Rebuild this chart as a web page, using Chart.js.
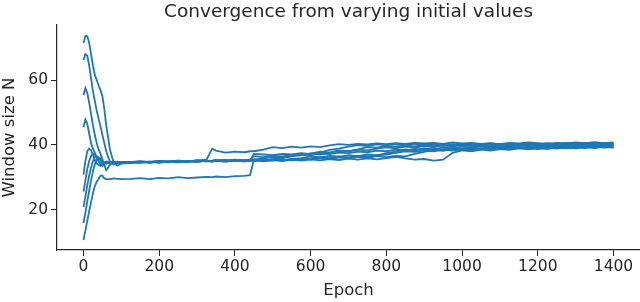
<!DOCTYPE html>
<html>
<head>
<meta charset="utf-8">
<script src="https://cdn.jsdelivr.net/npm/chart.js@4"></script>
<style>
  body { margin: 0; background: #fff; }
  canvas { display: block; }
</style>
</head>
<body>
<canvas id="conv_chart" width="640" height="302"></canvas>
<script>
const ctx = document.getElementById("conv_chart").getContext("2d");

const epochs = [0, 5, 10, 15, 20, 25, 30, 35, 40, 45, 50, 55, 60, 70, 80, 90, 100,
    125, 150, 175, 200, 225, 250, 275, 300, 325, 340, 350, 375, 400, 425, 440,
    450, 475, 500, 525, 550, 575, 600, 625, 650, 675, 700, 725, 750, 775, 800, 825, 850, 875,
    900, 925, 950, 975, 1000, 1025, 1050, 1075, 1100, 1125, 1150, 1175, 1200, 1225, 1250, 1275,
    1300, 1325, 1350, 1375, 1400];

const xTicks = [0, 200, 400, 600, 800, 1000, 1200, 1400];
const yTicks = [20, 40, 60];

// one run per initial window size
const run71 = [71.4, 73.6, 73.5, 71.5, 68, 64.5, 61.5, 60, 58.3, 56.8, 55, 51, 46, 38.5, 34.3, 33.6, 34.2,
    34.6, 34.8, 34.5, 34.9, 34.7, 35.0, 34.8, 35.1, 34.9, 35.0, 35.2, 35.0, 35.3, 35.1, 35.2,
    35.4, 35.8, 36.2, 35.9, 36.4, 36.8, 37.3, 37.0, 37.6, 38.2, 38.0, 38.5, 38.3, 38.8, 39.2, 38.9, 39.4, 39.1,
    39.6, 39.3, 39.8, 39.5, 39.9, 39.6, 40.0, 39.7, 40.1, 39.8, 40.2, 39.9, 40.3, 40.0, 40.4, 40.1,
    40.3, 40.0, 40.4, 40.1, 40.3];
const run66 = [66.2, 68.0, 67.5, 64.5, 60.5, 56.5, 53.5, 50.5, 48, 45.6, 43, 40.5, 38, 34.6, 33.9, 34.4, 34.3,
    34.4, 34.6, 34.8, 34.5, 34.9, 34.7, 35.0, 34.8, 35.1, 34.9, 35.1, 35.3, 35.0, 35.2, 35.1,
    37.2, 37.0, 36.8, 37.2, 37.0, 37.4, 37.1, 37.6, 38.4, 38.8, 39.4, 39.9, 39.6, 40.1, 39.8, 40.2, 39.9, 40.3,
    40.0, 40.2, 39.7, 40.1, 39.8, 40.3, 40.0, 40.4, 40.1, 40.3, 39.9, 40.4, 40.1, 40.5, 40.2, 40.6,
    40.3, 40.5, 40.2, 40.6, 40.4];
const run55 = [55.4, 57.5, 56, 53, 49.5, 46, 43, 40.5, 38.5, 37.2, 35.5, 33.8, 32.2, 33.8, 34.8, 34.3, 34.6,
    34.5, 34.7, 34.4, 34.8, 34.6, 34.9, 34.7, 34.9, 35.0, 34.8, 35.0, 34.8, 35.2, 34.9, 35.1,
    35.0, 35.3, 35.1, 35.5, 35.2, 35.6, 35.4, 35.9, 35.6, 36.1, 35.8, 36.3, 36.0, 36.5, 36.2, 36.6, 36.4, 37.2,
    37.8, 38.4, 38.1, 38.7, 38.4, 38.9, 38.6, 39.1, 38.8, 39.3, 39.0, 39.4, 39.1, 39.5, 39.2, 39.6,
    39.3, 39.7, 39.4, 39.7, 39.5];
const run45 = [45.5, 47.8, 46.5, 43.5, 40.5, 38.8, 37.5, 36.2, 35, 34, 33.4, 34.2, 34.8, 34.3, 34.6, 34.4, 34.7,
    34.6, 34.9, 34.7, 35.0, 34.8, 35.1, 34.9, 35.2, 35.0, 35.1, 35.3, 35.1, 35.4, 35.2, 35.3,
    35.5, 35.2, 35.6, 36.0, 36.6, 37.0, 36.8, 37.3, 37.1, 37.6, 37.4, 37.9, 37.7, 38.2, 38.0, 38.5, 38.3, 38.7,
    38.5, 38.9, 38.6, 39.0, 38.7, 39.2, 38.9, 39.3, 39.0, 38.8, 39.2, 38.9, 39.4, 39.1, 39.5, 39.2,
    38.9, 39.3, 39.0, 39.4, 39.1];
const run30 = [30.8, 35, 38, 38.8, 38.3, 36.8, 35.2, 34.2, 33.8, 33.5, 34.2, 34.6, 34.3, 34.7, 34.4, 34.8, 34.5,
    34.7, 34.9, 34.6, 35.0, 34.8, 35.1, 34.9, 35.2, 35.4, 38.8, 38.2, 37.6, 37.9, 37.7, 38.0,
    38.0, 38.5, 39.3, 39.0, 39.4, 39.1, 39.5, 39.3, 39.8, 40.2, 40.0, 40.3, 40.1, 40.4, 40.2, 40.5, 40.3, 40.6,
    40.4, 40.6, 40.3, 40.7, 40.4, 40.6, 40.3, 40.5, 40.2, 40.6, 40.4, 40.7, 40.5, 40.3, 40.6, 40.4,
    40.7, 40.5, 40.8, 40.5, 40.7];
const run25 = [25.5, 29, 32.5, 35, 36.5, 37.2, 37, 36, 35, 34.3, 34, 34.5, 34.8, 34.5, 34.7, 34.4, 34.6,
    34.5, 34.8, 34.6, 34.9, 34.7, 35.0, 34.8, 35.1, 34.9, 35.0, 35.2, 35.0, 35.3, 35.1, 35.4,
    36.5, 36.2, 36.6, 36.4, 36.9, 36.7, 37.3, 37.9, 37.6, 38.2, 38.0, 38.6, 39.3, 39.1, 39.6, 39.4, 39.8, 39.5,
    39.9, 39.6, 40.0, 39.7, 40.1, 39.8, 39.5, 39.9, 39.6, 40.0, 39.7, 40.1, 39.8, 40.2, 39.9, 40.2,
    39.8, 40.1, 39.7, 40.0, 39.8];
const run20 = [20.8, 24, 27.5, 30.5, 33, 35, 36.2, 36.5, 36, 35.2, 34.5, 34.2, 34.6, 34.8, 34.5, 34.7, 34.4,
    34.6, 34.4, 34.7, 34.5, 34.8, 34.6, 34.9, 34.7, 35.0, 34.8, 35.0, 34.8, 35.1, 34.9, 35.0,
    35.2, 34.9, 35.3, 35.0, 35.4, 35.1, 35.5, 35.2, 35.6, 35.3, 35.7, 35.4, 35.8, 35.5, 35.9, 36.3, 35.8, 35.4,
    35.6, 35.1, 35.4, 37.5, 38.3, 38.0, 38.5, 38.2, 38.7, 38.4, 38.9, 38.6, 39.0, 38.7, 39.2, 38.9,
    39.3, 39.0, 39.4, 39.1, 39.3];
const run15 = [15.8, 19, 22.5, 25.8, 29, 31.8, 34, 35.5, 36, 35.8, 35, 34.3, 34.1, 34.6, 34.4, 34.7, 34.5,
    34.7, 34.5, 34.8, 34.6, 34.9, 34.7, 35.0, 34.8, 35.1, 35.0, 35.2, 35.0, 35.3, 35.1, 35.2,
    35.4, 35.1, 35.5, 35.2, 35.6, 35.9, 36.4, 36.1, 36.6, 36.3, 36.8, 36.5, 37.0, 36.7, 37.4, 37.9, 38.6, 38.3,
    38.9, 38.6, 39.2, 38.9, 39.4, 39.1, 39.6, 39.3, 39.7, 39.4, 39.8, 39.5, 39.9, 39.6, 40.0, 39.7,
    40.1, 39.8, 40.2, 39.9, 40.1];
const run10 = [10.6, 13.5, 16.5, 19.5, 22.3, 25, 27.3, 28.6, 29.5, 30.5, 30.5, 29.6, 29.4, 29.4, 29.6, 29.5, 29.4,
    29.5, 29.7, 29.4, 29.8, 29.6, 30.0, 29.7, 29.9, 30.1, 30.0, 30.2, 30.0, 30.3, 30.4, 30.6,
    35.3, 35.1, 35.4, 35.2, 35.6, 35.3, 35.8, 36.2, 35.9, 36.4, 36.1, 36.6, 36.3, 36.8, 37.0, 37.5, 38.0, 37.8,
    38.3, 38.0, 38.5, 38.2, 38.7, 38.4, 38.9, 38.6, 39.1, 38.8, 39.3, 39.0, 38.7, 39.1, 38.8, 39.2,
    38.9, 39.4, 39.1, 39.5, 39.2];

const runs = [run71, run66, run55, run45, run30, run25, run20, run15, run10];

const ink = "#262626";
const font = "'DejaVu Sans', sans-serif";

const convChart = new Chart(ctx, {
    type: 'line',
    data: {
        datasets: runs.map(r => ({
            data: r.map((v, i) => ({ x: epochs[i], y: v })),
            borderColor: "#1f77b4",
            borderWidth: 1.8,
            pointRadius: 0,
            fill: false,
            tension: 0
        }))
    },
    options: {
        responsive: false,
        animation: false,
        devicePixelRatio: 1,
        layout: { padding: { left: 0, right: 0, top: 0, bottom: 0 } },
        plugins: {
            legend: { display: false },
            tooltip: { enabled: false },
            title: {
                display: true,
                text: "Convergence from varying initial values",
                color: ink,
                fullSize: false,
                font: { family: font, size: 18.5, weight: 'normal' },
                padding: { top: 1, bottom: 1.8 }
            }
        },
        scales: {
            x: {
                type: 'linear',
                min: -70,
                max: 1470,
                afterBuildTicks: s => { s.ticks = xTicks.map(v => ({ value: v })); },
                afterFit: s => { s.height = 52; },
                grid: { drawOnChartArea: false, tickLength: 6, color: ink },
                border: { color: ink, width: 1.2 },
                ticks: { color: ink, font: { family: font, size: 15.5 }, padding: 2, maxRotation: 0,
                    callback: v => String(v) },
                title: { display: true, text: "Epoch", color: ink, font: { family: font, size: 16.5 }, padding: { top: 0, bottom: 1 } }
            },
            y: {
                min: 7.5,
                max: 77,
                afterBuildTicks: s => { s.ticks = yTicks.map(v => ({ value: v })); },
                afterFit: s => { s.width = 57; },
                grid: { drawOnChartArea: false, tickLength: 6, color: ink },
                border: { color: ink, width: 1.2 },
                ticks: { color: ink, font: { family: font, size: 15.5 }, padding: 3,
                    callback: v => String(v) },
                title: { display: true, text: "Window size N", color: ink, font: { family: font, size: 16.5 }, padding: { top: 0, bottom: 0 } }
            }
        }
    }
});
</script>
</body>
</html>
